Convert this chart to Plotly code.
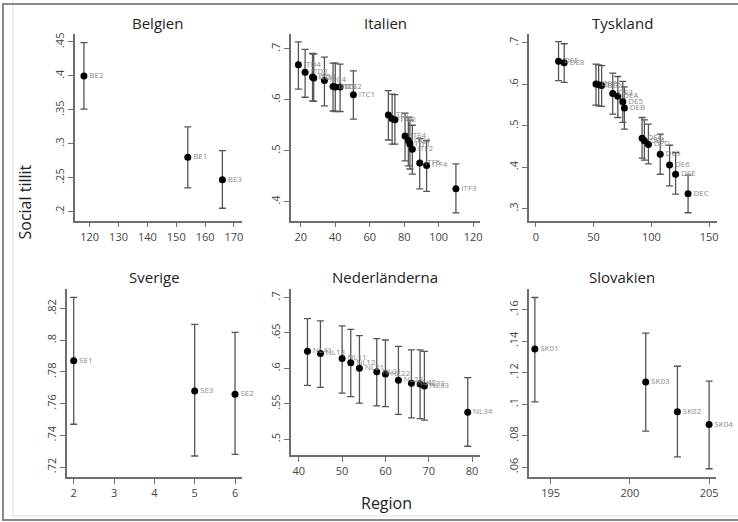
import plotly.graph_objects as go

W, H = 738, 522

# ---------------- data ----------------
be_reg = ["BE2", "BE1", "BE3"]
be_x = [118, 154, 166]
be_y = [0.400, 0.280, 0.247]
be_lo = [0.351, 0.235, 0.205]
be_hi = [0.449, 0.325, 0.290]

it_reg = ["ITD4", "ITD2", "ITD3", "ITD1", "ITC4", "ITD5", "ITC3", "ITC2", "ITC1",
          "ITE1", "ITE3", "ITE2", "ITE4", "ITG1", "ITF1", "ITF2", "ITF5", "ITF4", "ITF3"]
it_x = [18.6, 22.5, 26.8, 27.5, 33.7, 38.7, 40.0, 42.8, 50.5,
        70.8, 73.0, 74.6, 80.5, 82.4, 83.3, 84.7, 89.0, 93.0, 110.0]
it_y = [0.669, 0.654, 0.645, 0.643, 0.638, 0.626, 0.625, 0.625, 0.610,
        0.570, 0.563, 0.561, 0.529, 0.520, 0.513, 0.503, 0.476, 0.471, 0.425]
it_lo = [0.621, 0.605, 0.598, 0.597, 0.588, 0.578, 0.577, 0.577, 0.562,
         0.521, 0.513, 0.513, 0.480, 0.470, 0.464, 0.454, 0.425, 0.420, 0.378]
it_hi = [0.714, 0.699, 0.691, 0.690, 0.684, 0.672, 0.672, 0.670, 0.657,
         0.618, 0.611, 0.610, 0.574, 0.566, 0.560, 0.550, 0.524, 0.520, 0.474]

de_reg = ["DEF", "DE8", "DE7", "DE1", "DE2", "DE3", "DEA", "DE5", "DEB",
          "DEG", "DE4", "DED", "DE9", "DE6", "DEE", "DEC"]
de_x = [19.7, 24.6, 52.1, 54.4, 57.0, 66.6, 71.0, 75.3, 76.7,
        92.0, 94.0, 97.5, 107.7, 115.8, 121.0, 131.8]
de_y = [0.656, 0.652, 0.601, 0.599, 0.597, 0.578, 0.571, 0.558, 0.543,
        0.470, 0.464, 0.455, 0.431, 0.405, 0.383, 0.336]
de_lo = [0.609, 0.605, 0.550, 0.548, 0.547, 0.528, 0.520, 0.508, 0.492,
         0.422, 0.417, 0.408, 0.383, 0.355, 0.335, 0.290]
de_hi = [0.703, 0.698, 0.649, 0.647, 0.645, 0.627, 0.619, 0.607, 0.594,
         0.520, 0.514, 0.504, 0.480, 0.453, 0.435, 0.381]

se_reg = ["SE1", "SE3", "SE2"]
se_x = [2, 5, 6]
se_y = [0.787, 0.768, 0.766]
se_lo = [0.747, 0.727, 0.728]
se_hi = [0.827, 0.810, 0.805]

nl_reg = ["NL41", "NL13", "NL11", "NL12", "NL21", "NL31", "NL22", "NL23",
          "NL42", "NL32", "NL33", "NL34"]
nl_x = [42, 45, 50, 52, 54, 58, 60, 63, 66, 68, 69, 79]
nl_y = [0.624, 0.621, 0.614, 0.608, 0.600, 0.595, 0.592, 0.583, 0.579, 0.578, 0.575, 0.538]
nl_lo = [0.576, 0.573, 0.565, 0.560, 0.551, 0.547, 0.546, 0.535, 0.530, 0.529, 0.527, 0.490]
nl_hi = [0.670, 0.667, 0.660, 0.655, 0.646, 0.642, 0.640, 0.631, 0.626, 0.626, 0.624, 0.587]

sk_reg = ["SK01", "SK03", "SK02", "SK04"]
sk_x = [194, 201, 203, 205]
sk_y = [0.135, 0.114, 0.0952, 0.087]
sk_lo = [0.1014, 0.0828, 0.0665, 0.059]
sk_hi = [0.1676, 0.145, 0.124, 0.1145]

titles = ["Belgien", "Italien", "Tyskland", "Sverige", "Nederländerna", "Slovakien"]

be_xt = [120, 130, 140, 150, 160, 170]
be_yt = [0.2, 0.25, 0.3, 0.35, 0.4, 0.45]
be_ytl = [".2", ".25", ".3", ".35", ".4", ".45"]
it_xt = [20, 40, 60, 80, 100, 120]
it_yt = [0.4, 0.5, 0.6, 0.7]
it_ytl = [".4", ".5", ".6", ".7"]
de_xt = [0, 50, 100, 150]
de_yt = [0.3, 0.4, 0.5, 0.6, 0.7]
de_ytl = [".3", ".4", ".5", ".6", ".7"]
se_xt = [2, 3, 4, 5, 6]
se_yt = [0.72, 0.74, 0.76, 0.78, 0.80, 0.82]
se_ytl = [".72", ".74", ".76", ".78", ".8", ".82"]
nl_xt = [40, 50, 60, 70, 80]
nl_yt = [0.5, 0.55, 0.6, 0.65, 0.7]
nl_ytl = [".5", ".55", ".6", ".65", ".7"]
sk_xt = [195, 200, 205]
sk_yt = [0.06, 0.08, 0.10, 0.12, 0.14, 0.16]
sk_ytl = [".06", ".08", ".1", ".12", ".14", ".16"]

# ---------------- layout geometry (pixels) ----------------
panels = [
    dict(reg=be_reg, x=be_x, y=be_y, lo=be_lo, hi=be_hi, xt=be_xt, yt=be_yt, ytl=be_ytl,
         dom_x=(75, 243), dom_y=(33, 220), rx=(114.8, 172.8), ry=(0.1868, 0.4618), title_xy=(158, 22)),
    dict(reg=it_reg, x=it_x, y=it_y, lo=it_lo, hi=it_hi, xt=it_xt, yt=it_yt, ytl=it_ytl,
         dom_x=(292, 482), dom_y=(33, 220), rx=(14.2, 124.0), ry=(0.3627, 0.7294), title_xy=(387, 22)),
    dict(reg=de_reg, x=de_x, y=de_y, lo=de_lo, hi=de_hi, xt=de_xt, yt=de_yt, ytl=de_ytl,
         dom_x=(531, 720), dom_y=(33, 220), rx=(-6.0, 156.9), ry=(0.2711, 0.7217), title_xy=(625, 22)),
    dict(reg=se_reg, x=se_x, y=se_y, lo=se_lo, hi=se_hi, xt=se_xt, yt=se_yt, ytl=se_ytl,
         dom_x=(67, 243), dom_y=(289, 477), rx=(1.827, 6.173), ry=(0.7137, 0.832), title_xy=(155, 277)),
    dict(reg=nl_reg, x=nl_x, y=nl_y, lo=nl_lo, hi=nl_hi, xt=nl_xt, yt=nl_yt, ytl=nl_ytl,
         dom_x=(292, 482), dom_y=(289, 455), rx=(38.16, 81.84), ry=(0.4775, 0.7113), title_xy=(387, 277)),
    dict(reg=sk_reg, x=sk_x, y=sk_y, lo=sk_lo, hi=sk_hi, xt=sk_xt, yt=sk_yt, ytl=sk_ytl,
         dom_x=(531, 719), dom_y=(289, 477), rx=(193.62, 205.44), ry=(0.0537, 0.1727), title_xy=(625, 277)),
]

FONT = "Open Sans"
AX = "#6e6e6e"


def fx(px):
    return px / W


def fy(py):
    return 1 - py / H


fig = go.Figure()
layout = dict(
    width=W, height=H, margin=dict(l=0, r=0, t=0, b=0),
    paper_bgcolor="white", plot_bgcolor="white", showlegend=False,
    font=dict(family=FONT, color="#333"),
)
annotations = []

for i, p in enumerate(panels):
    n = i + 1
    xa = "x" if n == 1 else f"x{n}"
    ya = "y" if n == 1 else f"y{n}"
    plus = [h - v for h, v in zip(p["hi"], p["y"])]
    minus = [v - l for v, l in zip(p["y"], p["lo"])]
    fig.add_trace(go.Scatter(
        x=p["x"], y=p["y"], xaxis=xa, yaxis=ya,
        mode="markers+text", text=p["reg"], textposition="middle right",
        textfont=dict(size=8, color="#8a8a8a", family=FONT),
        marker=dict(size=7, color="black"),
        error_y=dict(type="data", symmetric=False, array=plus, arrayminus=minus,
                     color="#555555", thickness=1.3, width=3.5),
        cliponaxis=False, hoverinfo="skip",
    ))
    axcommon = dict(showgrid=False, zeroline=False, showline=True, linecolor=AX, linewidth=1.5,
                    ticks="outside", ticklen=5, tickwidth=1.2, tickcolor=AX,
                    tickfont=dict(size=11, color="#444", family=FONT))
    layout["xaxis" if n == 1 else f"xaxis{n}"] = dict(
        domain=[fx(p["dom_x"][0]), fx(p["dom_x"][1])], range=list(p["rx"]),
        anchor=ya, tickvals=p["xt"], **axcommon)
    layout["yaxis" if n == 1 else f"yaxis{n}"] = dict(
        domain=[fy(p["dom_y"][1]), fy(p["dom_y"][0])], range=list(p["ry"]),
        anchor=xa, tickvals=p["yt"], ticktext=p["ytl"], tickangle=-90, **axcommon)
    annotations.append(dict(
        x=fx(p["title_xy"][0]), y=fy(p["title_xy"][1]), xref="paper", yref="paper",
        text=titles[i], showarrow=False, xanchor="center", yanchor="middle",
        font=dict(size=15, color="#222", family=FONT)))

annotations.append(dict(x=fx(25), y=fy(201), xref="paper", yref="paper", text="Social tillit",
                        textangle=-90, showarrow=False, xanchor="center", yanchor="middle",
                        font=dict(size=16, color="#222", family=FONT)))
annotations.append(dict(x=fx(388), y=fy(503), xref="paper", yref="paper", text="Region",
                        showarrow=False, xanchor="center", yanchor="middle",
                        font=dict(size=16, color="#222", family=FONT)))
layout["annotations"] = annotations
layout["shapes"] = [
    dict(type="rect", xref="paper", yref="paper", x0=fx(13), x1=fx(760), y0=fy(516), y1=fy(-20),
         line=dict(color="#dcdcdc", width=1)),
    dict(type="rect", xref="paper", yref="paper", x0=fx(3), x1=fx(760), y0=fy(520), y1=fy(3),
         line=dict(color="#8a8a8a", width=2)),
]
fig.update_layout(**layout)
fig.write_html("out.html")
